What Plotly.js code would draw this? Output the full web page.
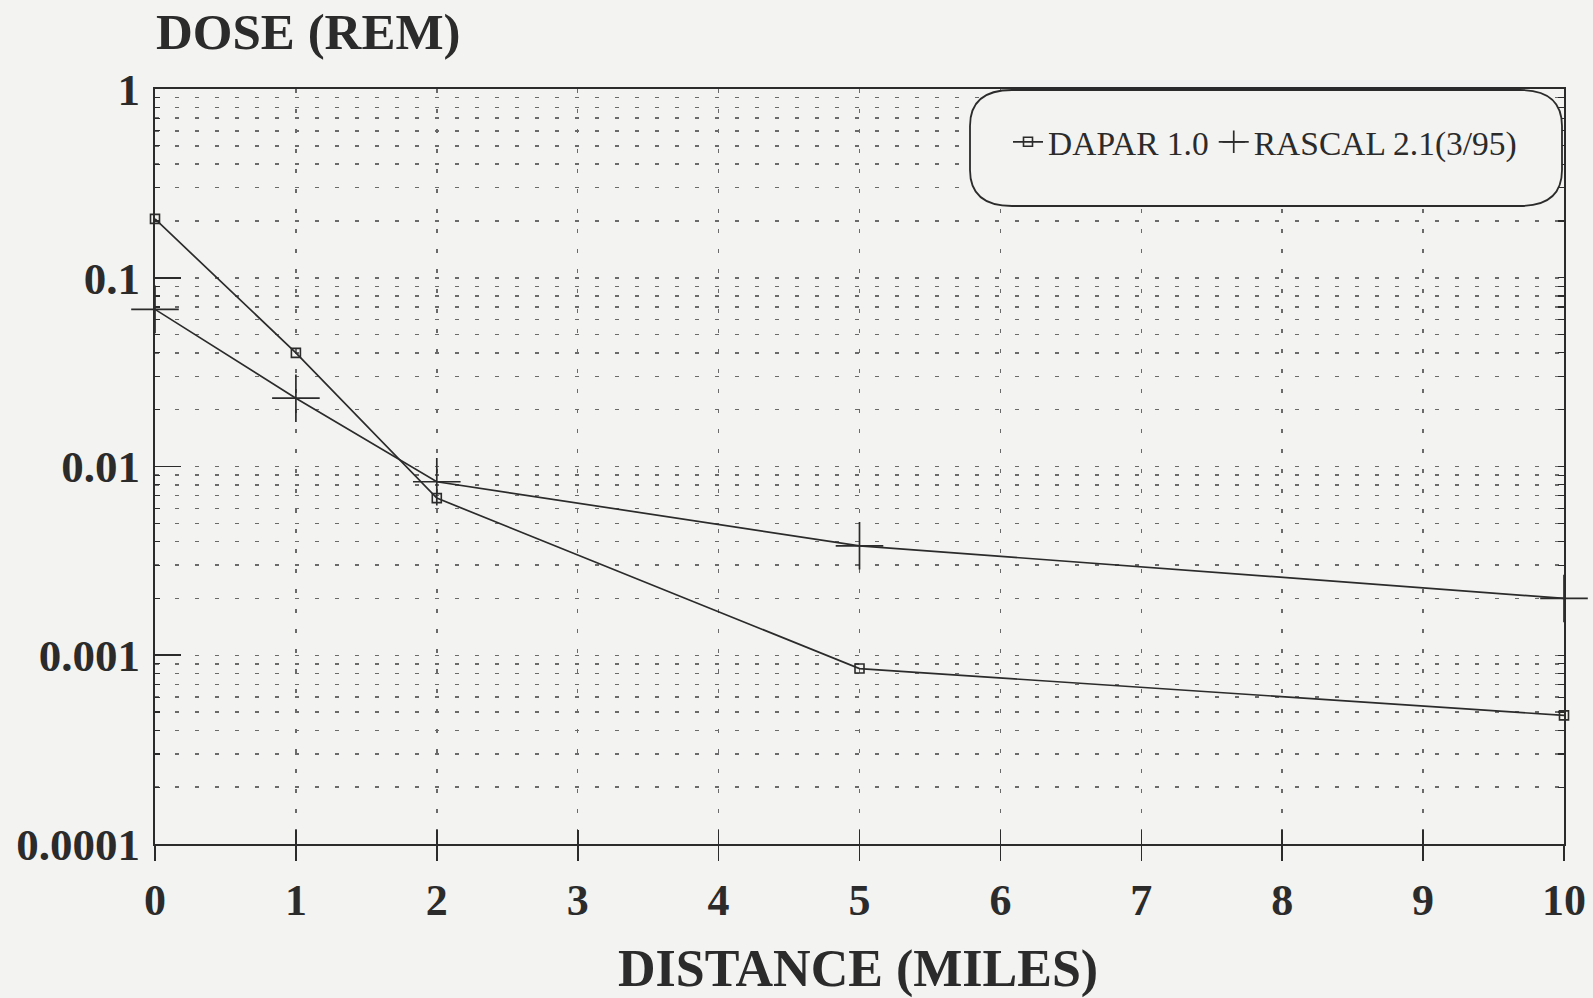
<!DOCTYPE html>
<html>
<head>
<meta charset="utf-8">
<script src="https://cdn.plot.ly/plotly-3.0.1.min.js"></script>
<style>
  html, body { margin: 0; padding: 0; background: #f3f3f1; }
  #chart { width: 1593px; height: 998px; }
</style>
</head>
<body>
<div id="chart"></div>
<script>
// Distance (miles)
const distance = [0, 1, 2, 5, 10];
// Dose (rem)
const dapar = [0.205, 0.040, 0.0068, 0.00085, 0.00048];
const rascal = [0.068, 0.023, 0.0083, 0.0038, 0.0020];

const xTickVals = [0, 1, 2, 3, 4, 5, 6, 7, 8, 9, 10];
const yTickVals = [1, 0.1, 0.01, 0.001, 0.0001];
const yTickText = ['1', '0.1', '0.01', '0.001', '0.0001'];

const seriesNames = ['DAPAR 1.0', 'RASCAL 2.1(3/95)'];
const xTitle = 'DISTANCE (MILES)';
const yTitle = 'DOSE (REM)';

// minor log ticks (2..9 within each decade)
const minorVals = [];
for (let d = -4; d < 0; d++) {
  for (let k = 2; k <= 9; k++) minorVals.push(k * Math.pow(10, d));
}
const allYTicks = yTickVals.concat(minorVals);

const ink = '#2b2b2b';
const gridCol = '#6a6a6a';
const dotDash = '4px,16px';
const serif = 'Liberation Serif, serif';

const traces = [
  {
    x: distance, y: dapar, name: seriesNames[0],
    type: 'scatter', mode: 'lines+markers', cliponaxis: false,
    line: { color: ink, width: 1.7 },
    marker: { symbol: 'square-open', size: 9, color: ink, line: { width: 1.6, color: ink } }
  },
  {
    x: distance, y: rascal, name: seriesNames[1],
    type: 'scatter', mode: 'lines+markers', cliponaxis: false,
    line: { color: ink, width: 1.7 },
    marker: { symbol: 'cross-thin-open', size: 34, color: ink, line: { width: 1.7, color: ink } }
  },
  // empty helper trace so the overlay axes (extra tick marks) are drawn
  { x: [], y: [], xaxis: 'x2', yaxis: 'y2', type: 'scatter', mode: 'markers', showlegend: false, hoverinfo: 'skip' }
];

const W = 1593, H = 998;
const L = 155, R = 29, T = 89, B = 154;
const pw = W - L - R, ph = H - T - B;
function px2x(p) { return (p - L) / pw; }
function py2y(p) { return (H - B - p) / ph; }
// rounded legend frame
const bx0 = px2x(970), bx1 = px2x(1562), by0 = py2y(206), by1 = py2y(90);
const rx = 42 / pw, ry = 36 / ph;
const framePath =
  `M ${bx0 + rx},${by0} L ${bx1 - rx},${by0} Q ${bx1},${by0} ${bx1},${by0 + ry} ` +
  `L ${bx1},${by1 - ry} Q ${bx1},${by1} ${bx1 - rx},${by1} L ${bx0 + rx},${by1} ` +
  `Q ${bx0},${by1} ${bx0},${by1 - ry} L ${bx0},${by0 + ry} Q ${bx0},${by0} ${bx0 + rx},${by0} Z`;

const layout = {
  width: W, height: H,
  margin: { l: L, r: R, t: T, b: B },
  paper_bgcolor: '#f3f3f1',
  plot_bgcolor: '#f3f3f1',
  font: { family: serif, color: ink },
  showlegend: true,
  title: {
    text: '<b>' + yTitle + '</b>',
    xref: 'container', yref: 'container',
    x: 156 / W, xanchor: 'left',
    y: 1 - 31 / H, yanchor: 'middle',
    font: { family: serif, size: 51, color: ink }
  },
  xaxis: {
    range: [0, 10],
    tickmode: 'array', tickvals: xTickVals,
    ticks: 'outside', ticklen: 15, tickwidth: 1.6, tickcolor: ink,
    ticklabelstandoff: 1,
    tickfont: { family: serif, size: 44, color: ink, weight: 'bold' },
    showline: true, linecolor: ink, linewidth: 2, mirror: true,
    showgrid: true, gridcolor: gridCol, gridwidth: 1.5, griddash: dotDash,
    zeroline: false
  },
  xaxis2: {
    overlaying: 'x', anchor: 'y2', side: 'bottom',
    range: [0, 10], tickmode: 'array', tickvals: xTickVals,
    ticks: 'inside', ticklen: 14, tickwidth: 1.6, tickcolor: ink,
    showticklabels: false, showgrid: false, showline: false, zeroline: false
  },
  yaxis: {
    type: 'log', range: [-4, 0],
    tickmode: 'array', tickvals: yTickVals, ticktext: yTickText,
    ticks: 'inside', ticklen: 26, tickwidth: 1.8, tickcolor: ink,
    ticklabelstandoff: 4,
    tickfont: { family: serif, size: 45, color: ink, weight: 'bold' },
    showline: true, linecolor: ink, linewidth: 2, mirror: true,
    showgrid: true, gridcolor: gridCol, gridwidth: 1.5, griddash: dotDash,
    zeroline: false,
    minor: {
      tickmode: 'array', tickvals: minorVals,
      ticks: 'inside', ticklen: 5, tickcolor: ink, tickwidth: 1.2,
      showgrid: true, gridcolor: gridCol, gridwidth: 1.5, griddash: dotDash
    }
  },
  yaxis2: {
    overlaying: 'y', anchor: 'x2', side: 'right',
    type: 'log', range: [-4, 0],
    tickmode: 'array', tickvals: allYTicks,
    ticks: 'inside', ticklen: 6, tickwidth: 1.2, tickcolor: ink,
    showticklabels: false, showgrid: false, showline: false, zeroline: false
  },
  legend: {
    orientation: 'h',
    x: px2x(1008), xanchor: 'left',
    y: py2y(142), yanchor: 'middle',
    bgcolor: 'rgba(0,0,0,0)', borderwidth: 0,
    font: { family: serif, size: 33.5, color: ink },
    itemwidth: 30
  },
  annotations: [
    {
      text: '<b>' + xTitle + '</b>',
      xref: 'paper', yref: 'paper',
      x: px2x(858), xanchor: 'center',
      y: py2y(969), yanchor: 'middle',
      showarrow: false,
      font: { family: serif, size: 52, color: ink }
    }
  ],
  shapes: [
    {
      type: 'path', xref: 'paper', yref: 'paper', path: framePath,
      line: { color: ink, width: 1.8 }, fillcolor: '#f3f3f1', layer: 'above'
    }
  ]
};

Plotly.newPlot('chart', traces, layout, { displayModeBar: false, staticPlot: true });
</script>
</body>
</html>
